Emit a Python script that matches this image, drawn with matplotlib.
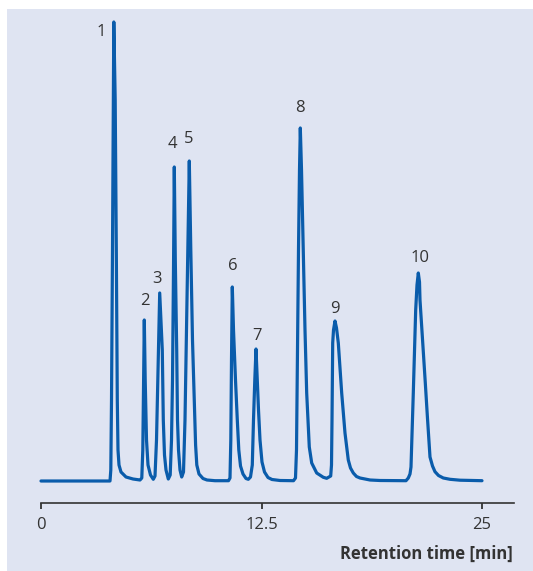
import matplotlib.pyplot as plt
from matplotlib.patches import Rectangle

# Chromatogram trace (time in min, signal in arbitrary units)
tiempo = [0.000, 3.912,
          3.957, 3.997, 4.053, 4.099, 4.127, 4.206, 4.269, 4.325, 4.365, 4.422, 4.535, 4.819, 5.215, 5.612,  # 1
          5.714, 5.771, 5.816, 5.856, 5.907, 5.981, 6.066, 6.207, 6.366,  # 2
          6.463, 6.548, 6.633, 6.729, 6.774, 6.876, 6.933, 7.001, 7.086, 7.217,  # 3
          7.324, 7.398, 7.455, 7.511, 7.557, 7.613, 7.693, 7.738, 7.795, 7.880, 7.976,  # 4
          8.078, 8.163, 8.248, 8.333, 8.407, 8.492, 8.588, 8.690, 8.764, 8.832, 8.957, 9.184, 9.410, 9.864,  # 5
          10.629, 10.714, 10.760, 10.799, 10.845, 10.913, 11.026, 11.128, 11.213, 11.310, 11.451, 11.621, 11.752,  # 6
          11.876, 11.978, 12.046, 12.120, 12.188, 12.262, 12.330, 12.415, 12.528, 12.670, 12.868, 13.095, 13.549,  # 7
          14.314, 14.427, 14.484, 14.541, 14.597, 14.654, 14.700, 14.768, 14.869, 14.966, 15.062, 15.136, 15.209,
          15.346, 15.629, 16.003, 16.196,  # 8
          16.423, 16.468, 16.497, 16.536, 16.582, 16.667, 16.752, 16.854, 17.046, 17.233, 17.420, 17.545, 17.704,
          17.885, 18.084, 18.651, 19.218, 20.691,  # 9
          20.822, 20.918, 20.975, 21.105, 21.241, 21.315, 21.389, 21.457, 21.485, 21.650, 21.786, 21.905, 22.052,
          22.194, 22.335, 22.534, 22.806, 23.186, 23.753, 25.000]  # 10
senal = [0, 0,
         11, 81, 231, 381, 459, 381, 231, 81, 31, 16, 9, 4, 2, 1,
         3, 31, 101, 161, 101, 41, 16, 6, 1.7,
         5, 41, 111, 188, 171, 131, 61, 26, 11, 2,
         6, 41, 101, 211, 314, 221, 131, 61, 31, 11, 4,
         9, 61, 151, 241, 320, 231, 141, 81, 36, 16, 7, 2.5, 1, 0.3,
         0.3, 3, 41, 121, 194, 151, 101, 61, 31, 15, 7, 2.5, 1.7,
         4, 16, 61, 101, 132, 101, 71, 41, 19, 9, 3.5, 1.5, 0.5,
         0.3, 3, 31, 131, 231, 311, 353, 311, 231, 151, 88, 61, 34,
         18, 8, 3.7, 2.7,
         5, 16, 61, 138, 151, 160, 153, 138, 88, 48, 21, 13, 8,
         4.5, 3, 1, 0.5, 0.3,
         3, 7, 14, 88, 171, 196, 208, 199, 181, 136, 98, 64, 24,
         15, 9.3, 5.5, 3, 1.7, 0.8, 0.3]

# peak numbers and where their labels sit
picos = ['1', '2', '3', '4', '5', '6', '7', '8', '9', '10']
pico_t = [3.40, 5.88, 6.59, 7.43, 8.36, 10.86, 12.24, 14.68, 16.65, 21.46]
pico_s = [448.5, 180, 202, 336.5, 342, 214.5, 145.5, 372.7, 171.7, 222.7]

ticks = [0, 12.5, 25]
tick_labels = ['0', '12.5', '25']

fundo = '#dfe4f2'
azul = '#0a5cab'
cinza = '#333333'

fig = plt.figure(figsize=(5.33, 5.71), dpi=100)
fig.patch.set_facecolor('white')
fig.patches.append(Rectangle((7 / 533, 0), 1 - 7 / 533, 562 / 571,
                             transform=fig.transFigure, facecolor=fundo,
                             edgecolor='none', zorder=-10))

ax = fig.add_axes([41 / 533, 68 / 571, 473 / 533, 494 / 571])
ax.set_zorder(1)
ax.set_facecolor('none')
ax.plot(tiempo, senal, color=azul, lw=2.3, solid_joinstyle='round',
        solid_capstyle='round', clip_on=False)

for nome, t, s in zip(picos, pico_t, pico_s):
    ax.text(t, s, nome, ha='center', va='center', fontsize=12,
            family='Open Sans', color=cinza)

ax.set_xlim(0, 473 / 17.64)
ax.set_ylim(-22, 472)
ax.set_xticks(ticks)
ax.set_xticklabels(tick_labels, family='Open Sans', fontsize=12, color=cinza)
ax.tick_params(axis='x', direction='out', length=4, width=1.3, color=cinza, pad=6)
ax.set_yticks([])
for lado in ['top', 'right', 'left']:
    ax.spines[lado].set_visible(False)
ax.spines['bottom'].set_color(cinza)
ax.spines['bottom'].set_linewidth(1.2)

fig.text(513 / 533, 1 - 554 / 571, 'Retention time [min]', ha='right', va='center',
         fontsize=12, fontweight='bold', family='Open Sans', color=cinza)

fig.savefig('out.png', dpi=100)
